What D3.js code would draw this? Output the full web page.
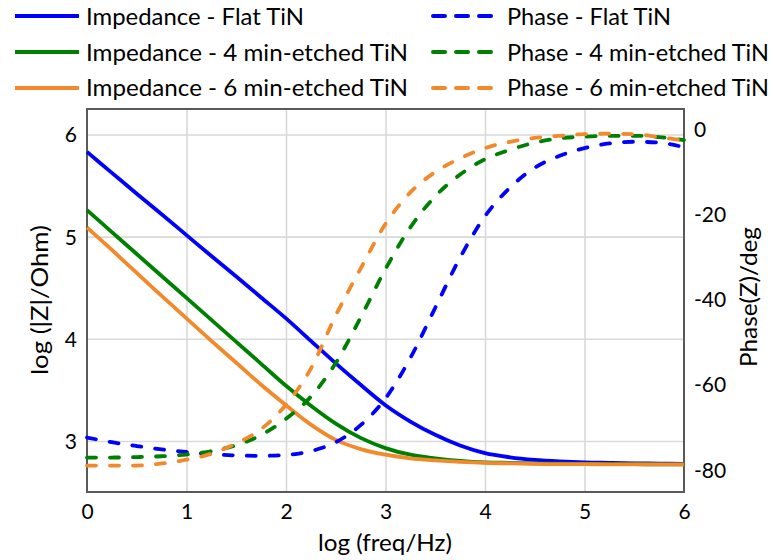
<!DOCTYPE html>
<html><head><meta charset="utf-8">
<script src="https://cdn.jsdelivr.net/npm/d3@7"></script>
<style>
body{margin:0;background:#fff;}
svg text{font-family:Lato,"Open Sans",sans-serif;fill:#000;}
</style></head><body>
<svg id="chart" width="774" height="560"></svg>
<script>
// ---- data ----
const logFreq = [0,0.25,0.5,0.75,1,1.25,1.5,1.75,2,2.25,2.5,2.75,3,3.25,3.5,3.75,4,4.25,4.5,4.75,5,5.25,5.5,5.75,6];

const impFlat = [5.83,5.625,5.42,5.22,5.015,4.81,4.61,4.405,4.20,3.98,3.76,3.55,3.35,3.19,3.06,2.955,2.88,2.84,2.815,2.80,2.79,2.785,2.78,2.778,2.775];
const imp4min = [5.26,5.045,4.83,4.615,4.40,4.185,3.97,3.755,3.54,3.345,3.17,3.03,2.93,2.865,2.83,2.805,2.79,2.785,2.78,2.777,2.775,2.773,2.772,2.771,2.77];
const imp6min = [5.09,4.87,4.645,4.42,4.20,3.98,3.765,3.55,3.35,3.16,3.01,2.92,2.865,2.83,2.81,2.795,2.785,2.78,2.775,2.773,2.772,2.771,2.77,2.77,2.77];

const phaseFlat = [-72.2,-73.3,-74.2,-75.0,-75.6,-76.1,-76.4,-76.5,-76.3,-75.4,-73.3,-69.3,-63.0,-53.5,-41.7,-29.9,-20.2,-13.5,-8.8,-6.0,-4.2,-3.1,-2.7,-2.9,-4.0];
const phase4min = [-76.9,-76.9,-76.8,-76.6,-76.2,-75.4,-74.0,-71.6,-67.8,-62.6,-54.7,-44.0,-32.6,-22.8,-15.5,-10.4,-6.8,-4.6,-2.9,-1.9,-1.5,-1.3,-1.3,-1.6,-2.3];
const phase6min = [-78.8,-78.8,-78.8,-78.3,-77.4,-76.0,-73.6,-70.2,-64.5,-56.0,-43.5,-32.5,-22.0,-14.6,-9.8,-6.6,-4.2,-2.7,-1.8,-1.3,-0.9,-0.8,-0.9,-1.6,-2.4];

const xTicks = [0,1,2,3,4,5,6];
const leftTicks = [3,4,5,6];
const rightTicks = [0,-20,-40,-60,-80];

const seriesLabels = ["Impedance - Flat TiN","Impedance - 4 min-etched TiN","Impedance - 6 min-etched TiN",
                      "Phase - Flat TiN","Phase - 4 min-etched TiN","Phase - 6 min-etched TiN"];
const xTitle = "log (freq/Hz)";
const yLeftTitle = "log (|Z|/Ohm)";
const yRightTitle = "Phase(Z)/deg";

// ---- layout ----
const colors = ["#0000ff","#008000","#f28a2b"];
const L = 87, R = 684, T = 109, B = 492;
const svg = d3.select("#chart");

const x = d3.scaleLinear().domain([0,6]).range([L,R]);
const yL = d3.scaleLinear().domain([2.5,6.25]).range([B,T]);
const yR = d3.scaleLinear().domain([-85,5]).range([B,T]);

// gridlines
const gGridX = svg.append("g").attr("transform",`translate(0,${B})`)
  .call(d3.axisBottom(x).tickValues([1,2,3,4,5]).tickSize(-(B-T)).tickFormat(""));
const gGridY = svg.append("g").attr("transform",`translate(${L},0)`)
  .call(d3.axisLeft(yL).tickValues(leftTicks).tickSize(-(R-L)).tickFormat(""));
[gGridX,gGridY].forEach(g=>{
  g.select(".domain").remove();
  g.selectAll("line").attr("stroke","#d9d9d9").attr("stroke-width",1.6);
});

// frame
svg.append("rect").attr("x",L).attr("y",T).attr("width",R-L).attr("height",B-T)
  .attr("fill","none").attr("stroke","#595959").attr("stroke-width",2);

// axes labels
const ax = svg.append("g").attr("transform",`translate(0,${B})`)
  .call(d3.axisBottom(x).tickValues(xTicks).tickSize(0).tickPadding(0).tickFormat(d3.format("d")));
ax.select(".domain").remove();
ax.selectAll("text").attr("y",27).attr("dy",0).style("font-size","21px");

const ayl = svg.append("g").attr("transform",`translate(${L},0)`)
  .call(d3.axisLeft(yL).tickValues(leftTicks).tickSize(0).tickPadding(10).tickFormat(d3.format("d")));
ayl.select(".domain").remove();
ayl.selectAll("text").attr("dy","0.35em").style("font-size","21px");

const ayr = svg.append("g").attr("transform",`translate(${R},0)`)
  .call(d3.axisRight(yR).tickValues(rightTicks).tickSize(0).tickPadding(10).tickFormat(d3.format("d")));
ayr.select(".domain").remove();
ayr.selectAll("text").attr("dy","0.3em").style("font-size","21px");
ayr.selectAll("text").text(d=> d<0 ? "-"+Math.abs(d) : d);

// titles
svg.append("text").attr("x",385).attr("y",551).attr("text-anchor","middle")
  .style("font-size","23px").attr("textLength",134).attr("lengthAdjust","spacingAndGlyphs").text(xTitle);
svg.append("text").attr("transform","translate(48,300) rotate(-90)").attr("text-anchor","middle")
  .style("font-size","23px").attr("textLength",150).attr("lengthAdjust","spacingAndGlyphs").text(yLeftTitle);
svg.append("text").attr("transform","translate(757,297) rotate(-90)").attr("text-anchor","middle")
  .style("font-size","23px").attr("textLength",140).attr("lengthAdjust","spacingAndGlyphs").text(yRightTitle);

// series
const impSeries = [impFlat, imp4min, imp6min];
const phaseSeries = [phaseFlat, phase4min, phase6min];
const lineL = d3.line().x((d,i)=>x(logFreq[i])).y(d=>yL(d)).curve(d3.curveMonotoneX);
const lineR = d3.line().x((d,i)=>x(logFreq[i])).y(d=>yR(d)).curve(d3.curveMonotoneX);

svg.append("g").selectAll("path").data(impSeries).join("path")
  .attr("d",lineL).attr("fill","none").attr("stroke",(d,i)=>colors[i]).attr("stroke-width",3.8);
svg.append("g").selectAll("path").data(phaseSeries).join("path")
  .attr("d",lineR).attr("fill","none").attr("stroke",(d,i)=>colors[i]).attr("stroke-width",3.8)
  .attr("stroke-dasharray","9,14").attr("stroke-linecap","round");

// legend
const legendRows = [25,60.5,96];
const legendLineY = [16,52,88];
const textWidths = [218,322,322,164,262,262];
const lg = svg.append("g");
seriesLabels.forEach((lab,k)=>{
  const col = k<3 ? 0 : 1;
  const row = k%3;
  const x0 = col===0 ? 15 : 433;
  const tx = col===0 ? 86 : 507;
  const ln = lg.append("line").attr("x1",x0).attr("x2",x0+(col===0?64:62))
    .attr("y1",legendLineY[row]).attr("y2",legendLineY[row])
    .attr("stroke",colors[row]).attr("stroke-width",4);
  if(col===1) ln.attr("stroke-dasharray","12,11").attr("stroke-linecap","round");
  lg.append("text").attr("x",tx).attr("y",legendRows[row]).style("font-size","23px")
    .attr("textLength",textWidths[k]).attr("lengthAdjust","spacingAndGlyphs").text(lab);
});
</script>
</body></html>
